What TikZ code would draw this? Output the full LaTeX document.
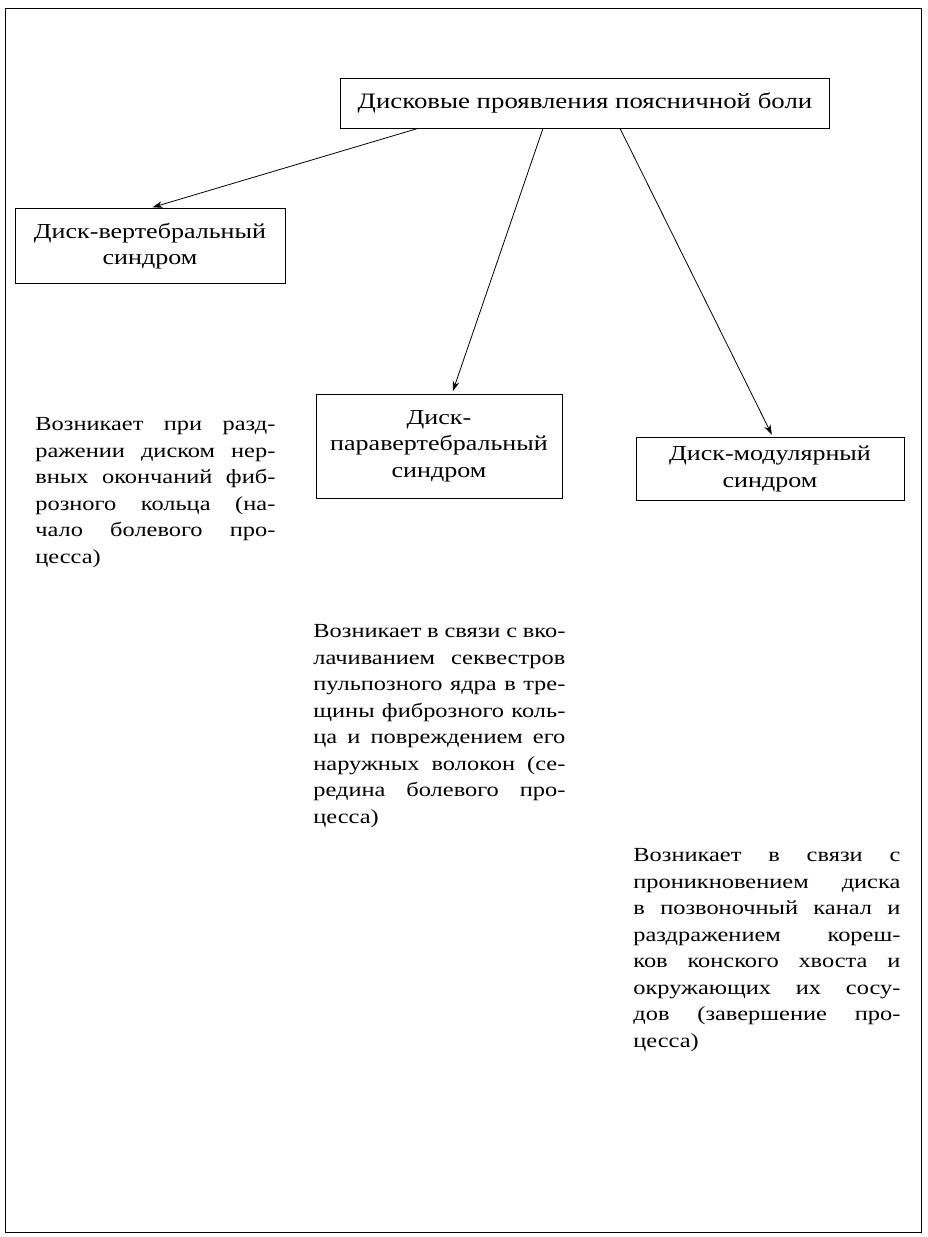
\documentclass[tikz,border=0pt]{standalone}
\usepackage{fontspec}
\setmainfont{Liberation Serif}[FakeStretch=1.22]
\usetikzlibrary{positioning, calc, arrows.meta}

\begin{document}
\begin{tikzpicture}[x=0.75pt, y=-0.75pt, font=\fontsize{15}{19.9}\selectfont,
	>={Stealth[length=7.5pt, width=5pt]}, line width=0.6pt,
	box/.style={draw, align=center, inner sep=0, font=\fontsize{16}{19.9}\selectfont},
	txt/.style={text width=#1, align=justify, inner sep=0, anchor=north west,
		execute at begin node={\hbadness=10000 \tolerance=10000}}]
\useasboundingbox (0,0) rectangle (927,1237);
\draw (5,8) rectangle (921,1232);

\node[box, minimum width=366.75pt, minimum height=37.5pt, font=\fontsize{16.5}{19.9}\selectfont] (top) at (585,103) {Дисковые проявления поясничной боли};
\node[box, minimum width=202.5pt, minimum height=56.25pt] (vert) at (150,246) {Диск-вертебральный\\синдром};
\node[box, minimum width=184.5pt, minimum height=78pt] (para) at (439,446) {Диск-\\паравертебральный\\синдром};
\node[box, minimum width=201pt, minimum height=47.25pt] (mod) at (770,469) {Диск-модулярный\\синдром};

\foreach \n/\a/\b in {vert/-167/0, para/-42/13, mod/35/3}
	\draw[->, shorten >=2pt] ($(top.south)+(\a,0)$) -- ($(\n.north)+(\b,0)$);

\node[txt=180pt] (vertdesc) at (35,417) {Возникает при разд-\linebreak ражении диском нер-\linebreak вных окончаний фиб-\linebreak розного кольца (на-\linebreak чало болевого про-\linebreak цесса)};
\node[txt=189pt] (paradesc) at (313,624) {Возникает в связи с вко-\linebreak лачиванием секвестров\linebreak пульпозного ядра в тре-\linebreak щины фиброзного коль-\linebreak ца и повреждением его\linebreak наружных волокон (се-\linebreak редина болевого про-\linebreak цесса)};
\node[txt=200.25pt] (moddesc) at (633,848) {Возникает в связи с\linebreak проникновением диска\linebreak в позвоночный канал и\linebreak раздражением кореш-\linebreak ков конского хвоста и\linebreak окружающих их сосу-\linebreak дов (завершение про-\linebreak цесса)};
\end{tikzpicture}
\end{document}
